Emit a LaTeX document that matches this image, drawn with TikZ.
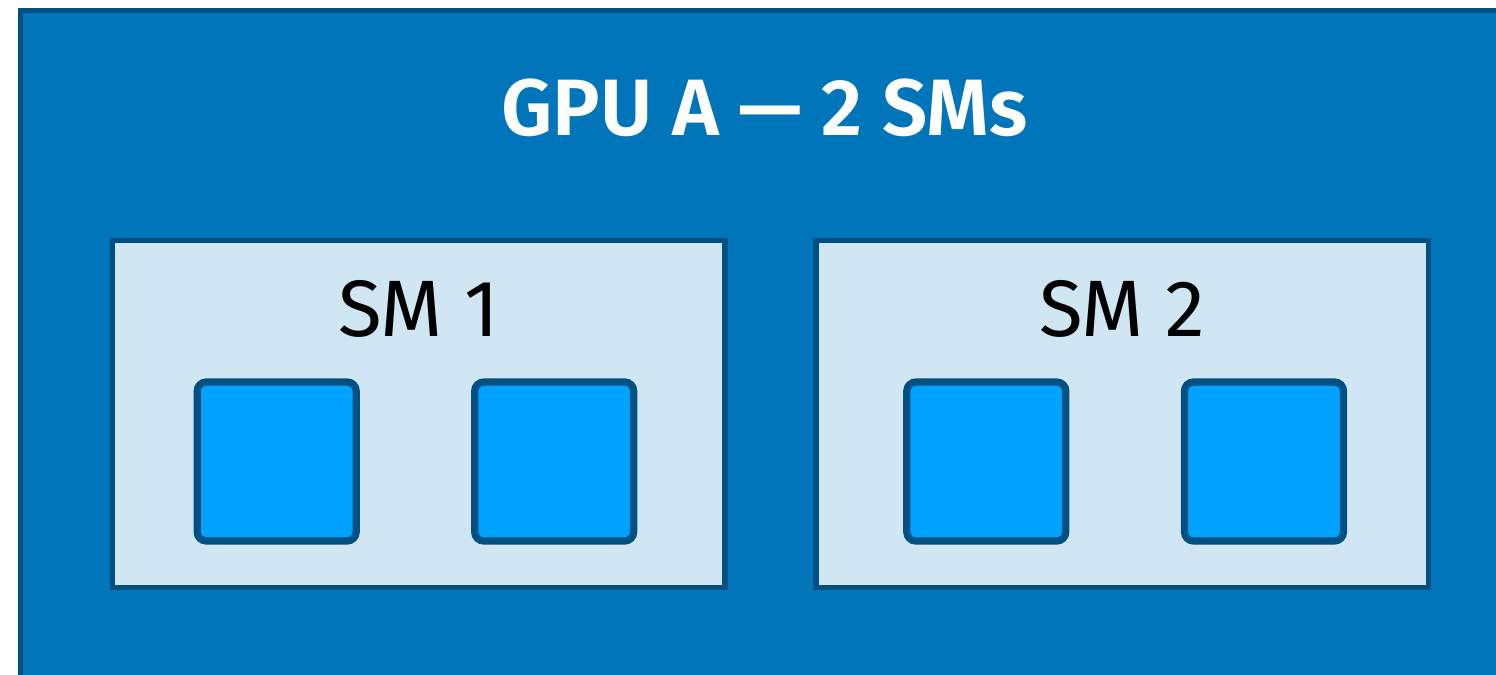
\documentclass[tikz,border=0pt]{standalone}
\usepackage{fontspec}
\setmainfont{Fira Sans}[BoldFont={Fira Sans SemiBold}]
\definecolor{gpufill}{RGB}{0,117,186}
\definecolor{edge}{RGB}{0,80,130}
\definecolor{smfill}{RGB}{208,230,243}
\definecolor{corefill}{RGB}{0,162,255}
\begin{document}
\begin{tikzpicture}[x=0.5pt,y=-0.5pt,
  gpubox/.style={draw=edge,fill=gpufill,line width=2.5pt,inner sep=0pt,outer sep=0pt,
    minimum width=744.5pt,minimum height=400pt},
  smbox/.style={draw=edge,fill=smfill,line width=2.75pt,inner sep=0pt,outer sep=0pt,
    minimum width=306.25pt,minimum height=173.5pt},
  corebox/.style={draw=edge,fill=corefill,line width=3.6pt,rounded corners=4.5pt,inner sep=0pt,outer sep=0pt,
    minimum width=79.5pt,minimum height=79.5pt},
  title/.style={anchor=base,text=white,font=\bfseries\fontsize{40}{40}\selectfont,inner sep=0pt},
  smlabel/.style={anchor=base,text=black,font=\fontsize{40}{40}\selectfont,inner sep=0pt}]
\useasboundingbox (0,0) rectangle (1496,675);
\clip (0,0) rectangle (1496,675);
\fill[white] (0,0) rectangle (1496,675);
\node[gpubox] (gpu) at (764.5,410) {};
\node[title] (gputitle) at (764.5,135) {GPU A — 2 SMs};
\node[smbox] (sm1) at (418.75,414) {};
\node[smbox] (sm2) at (1122,414) {};
\node[smlabel] (sm1label) at (418.5,336) {SM 1};
\node[smlabel] (sm2label) at (1122,336) {SM 2};
\node[corebox] (c11) at (276.7,461.5) {};
\node[corebox] (c12) at (554.2,461.5) {};
\node[corebox] (c21) at (986.3,461.5) {};
\node[corebox] (c22) at (1264,461.5) {};
\end{tikzpicture}
\end{document}
